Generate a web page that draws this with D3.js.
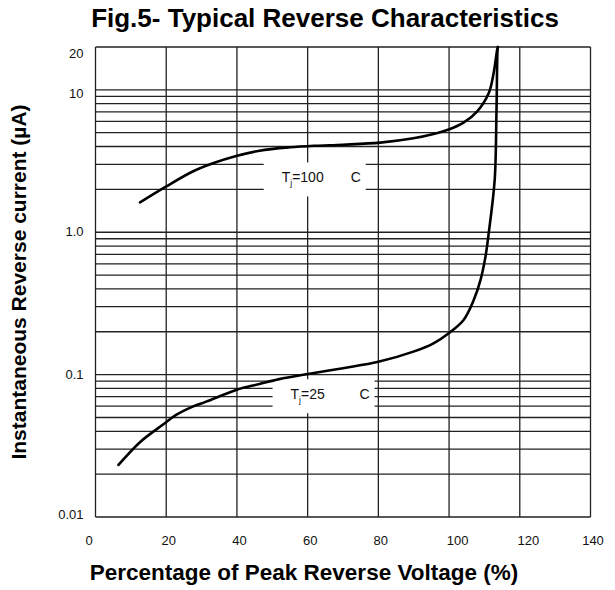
<!DOCTYPE html>
<html>
<head>
<meta charset="utf-8">
<script src="https://cdn.jsdelivr.net/npm/d3@7"></script>
<style>
  html, body { margin: 0; padding: 0; background: #fff; }
  svg { display: block; font-family: "Liberation Sans", Arial, sans-serif; }
</style>
</head>
<body>
<svg id="chart" width="615" height="590"></svg>
<script>
// Percentage of peak reverse voltage (%) vs reverse current (µA)
const xTickValues = [0, 20, 40, 60, 80, 100, 120, 140];
const yTickValues = [0.01, 0.1, 1, 10, 20];
const yTickLabels = ["0.01", "0.1", "1.0", "10", "20"];

const hotX = [12.6, 19.9, 27.5, 33.2, 39.8, 46.4, 55, 62, 70, 80.5, 89.9, 95.6, 100.1, 104.1, 107.9, 111.2, 112.6, 113.6, 113.8];
const hotY = [1.62, 2.09, 2.67, 3.05, 3.43, 3.74, 3.95, 4.05, 4.12, 4.26, 4.57, 4.9, 5.29, 5.88, 7.03, 9.46, 13.1, 19.1, 20];

const coldX = [6.5, 12.8, 19, 22.8, 27.5, 31.3, 39.8, 46.4, 52, 60.1, 70, 80, 89.9, 95.6, 100.1, 104.1, 107, 108.9, 110.3, 111.2, 112.9, 113.4, 113.7, 113.8];
const coldY = [0.0232, 0.0339, 0.0444, 0.0521, 0.0596, 0.0646, 0.0781, 0.086, 0.093, 0.101, 0.111, 0.123, 0.145, 0.166, 0.197, 0.242, 0.335, 0.463, 0.674, 0.98, 2.33, 6.88, 19, 20];

// curve labels: temperature text and the data point the label box sits on
const labelTemps = ["100", "25"];
const labelX = [62, 64.5];
const labelY = [2.35, 0.0705];

const svg = d3.select("#chart");
const x = d3.scaleLinear().domain([0, 140]).range([95.5, 590.5]);
const y = d3.scaleLog().domain([0.01, 20]).range([517, 47]);

// grid: 1..9 multiples in each full decade, plus the 10–20 band edges
const hLines = [];
[0.01, 0.1, 1].forEach(d => { for (let k = 1; k <= 9; k++) hLines.push(+(k * d).toPrecision(3)); });
hLines.push(10, 20);
const vLines = xTickValues;

const grid = svg.append("g").attr("stroke", "#222").attr("stroke-width", 1.3);
grid.selectAll("line.h").data(hLines).join("line")
  .attr("class", "h")
  .attr("x1", x(0)).attr("x2", x(140))
  .attr("y1", d => y(d)).attr("y2", d => y(d));
grid.selectAll("line.v").data(vLines).join("line")
  .attr("class", "v")
  .attr("x1", d => x(d)).attr("x2", d => x(d))
  .attr("y1", y(20)).attr("y2", y(0.01));

// label boxes blank out the grid behind the curve labels
const boxW = 102, boxH = 34;
const labels = labelTemps.map((t, i) => ({ t, x: labelX[i], y: labelY[i] }));
svg.append("g").selectAll("rect").data(labels).join("rect")
  .attr("x", d => x(d.x) - boxW / 2)
  .attr("y", d => y(d.y) - boxH / 2)
  .attr("width", boxW).attr("height", boxH)
  .attr("fill", "#fff");

// curves
const line = d3.line().x(d => x(d[0])).y(d => y(d[1])).curve(d3.curveCatmullRom.alpha(0.5));
const series = [d3.zip(hotX, hotY), d3.zip(coldX, coldY)];
svg.append("g").selectAll("path").data(series).join("path")
  .attr("d", line)
  .attr("fill", "none")
  .attr("stroke", "#000")
  .attr("stroke-width", 2.6)
  .attr("stroke-linejoin", "round")
  .attr("stroke-linecap", "round");

// label text
const lab = svg.append("g").attr("font-size", 14).attr("fill", "#111");
labels.forEach(d => {
  const cx = x(d.x), cy = y(d.y) + 2.5;
  const t = lab.append("text").attr("x", cx - 33).attr("y", cy);
  t.append("tspan").text("T");
  t.append("tspan").attr("font-size", 8.5).attr("dy", 4).text("j");
  t.append("tspan").attr("dy", -4).text("=" + d.t);
  lab.append("text").attr("x", cx + 36).attr("y", cy).text("C");
});

// axes
const xAxis = d3.axisBottom(x).tickValues(xTickValues).tickSize(0).tickPadding(0);
svg.append("g").attr("transform", "translate(0,536)").call(xAxis)
  .call(g => g.select(".domain").remove())
  .selectAll("text").attr("font-size", 13).attr("fill", "#111")
  .attr("font-family", "Liberation Sans, Arial, sans-serif")
  .attr("dx", d => d === 0 ? -7 : (d >= 100 && d < 140 ? 8 : 2));

const yAxis = d3.axisLeft(y).tickValues(yTickValues)
  .tickFormat((d, i) => yTickLabels[i]).tickSize(0).tickPadding(12);
svg.append("g").attr("transform", `translate(${x(0)},0)`).call(yAxis)
  .call(g => g.select(".domain").remove())
  .selectAll("text").attr("font-size", 13).attr("fill", "#111")
  .attr("font-family", "Liberation Sans, Arial, sans-serif")
  .attr("dy", d => d === 20 ? "0.8em" : d === 10 ? "0.55em" : d === 0.01 ? "0.15em" : "0.28em");

// titles
svg.append("text").attr("x", 325).attr("y", 27).attr("text-anchor", "middle")
  .attr("font-size", 26).attr("font-weight", "bold").text("Fig.5- Typical Reverse Characteristics");
svg.append("text").attr("transform", "translate(26,282) rotate(-90)").attr("text-anchor", "middle")
  .attr("font-size", 21).attr("font-weight", "bold").text("Instantaneous Reverse current (µA)");
svg.append("text").attr("x", 304).attr("y", 580).attr("text-anchor", "middle")
  .attr("font-size", 22.5).attr("font-weight", "bold").text("Percentage of Peak Reverse Voltage (%)");
</script>
</body>
</html>
